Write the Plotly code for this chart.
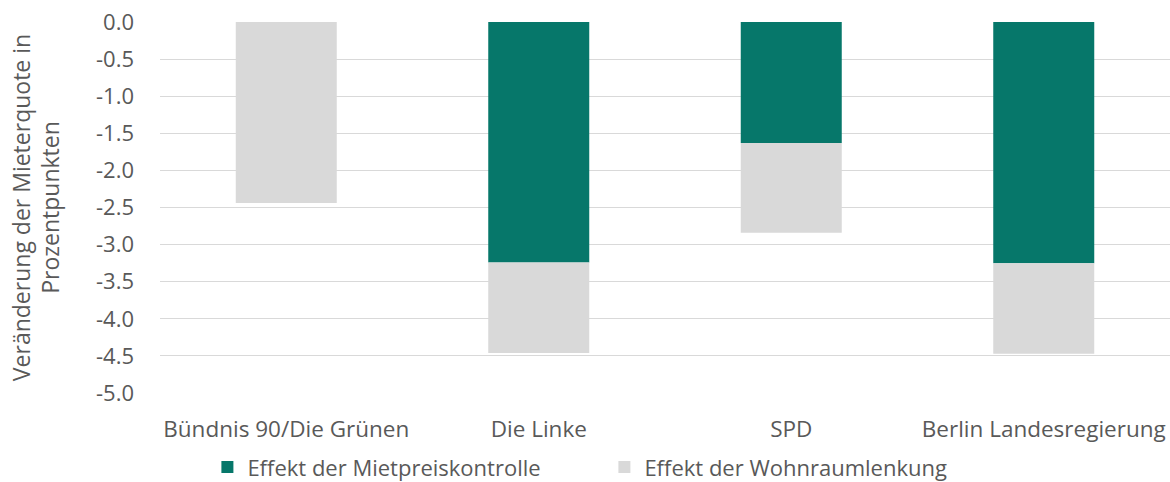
import plotly.graph_objects as go

categories = ["Bündnis 90/Die Grünen", "Die Linke", "SPD", "Berlin Landesregierung"]
mietpreiskontrolle = [0.0, -3.24, -1.63, -3.25]
wohnraumlenkung = [-2.44, -1.22, -1.21, -1.22]
tick_vals = [0, -0.5, -1, -1.5, -2, -2.5, -3, -3.5, -4, -4.5, -5]
tick_text = ["0.0", "-0.5", "-1.0", "-1.5", "-2.0", "-2.5", "-3.0", "-3.5", "-4.0", "-4.5", "-5.0"]

font_family = "Open Sans, Noto Sans, sans-serif"
txt_color = "#595959"
fs = 22

fig = go.Figure()
fig.add_trace(go.Bar(x=categories, y=mietpreiskontrolle, name="Effekt der Mietpreiskontrolle",
                     marker=dict(color="#06776A", line=dict(width=0))))
fig.add_trace(go.Bar(x=categories, y=wohnraumlenkung, name="Effekt der Wohnraumlenkung",
                     marker=dict(color="#D9D9D9", line=dict(width=0))))

fig.update_layout(
    width=1170, height=482,
    barmode="relative", bargap=0.6,
    paper_bgcolor="white", plot_bgcolor="white",
    margin=dict(l=160, r=0, t=22, b=89, autoexpand=False),
    font=dict(family=font_family, size=fs, color=txt_color),
    legend=dict(orientation="h", x=0.44, xanchor="center", y=-0.2, yanchor="middle",
                font=dict(size=fs, color=txt_color), itemwidth=30, traceorder="normal",
                entrywidth=352, entrywidthmode="pixels"),
    showlegend=True,
)
fig.update_xaxes(showgrid=False, showline=False, ticks="", automargin=False,
                 tickfont=dict(size=22.5, color=txt_color), ticklabelstandoff=20)
fig.update_yaxes(range=[-5, 0], tickvals=tick_vals, ticktext=tick_text, showgrid=True,
                 gridcolor="#D9D9D9", gridwidth=1, zeroline=False, showline=False, automargin=False,
                 tickfont=dict(size=fs, color=txt_color), ticklabelstandoff=25,
                 ticklabeloverflow="allow",
                 title=dict(text="Veränderung der Mieterquote in<br>Prozentpunkten",
                            font=dict(size=23, color=txt_color), standoff=29))

fig.write_html("out.html", config={"displayModeBar": False},
               post_script="document.body.style.margin='0';document.body.style.overflow='hidden';")
